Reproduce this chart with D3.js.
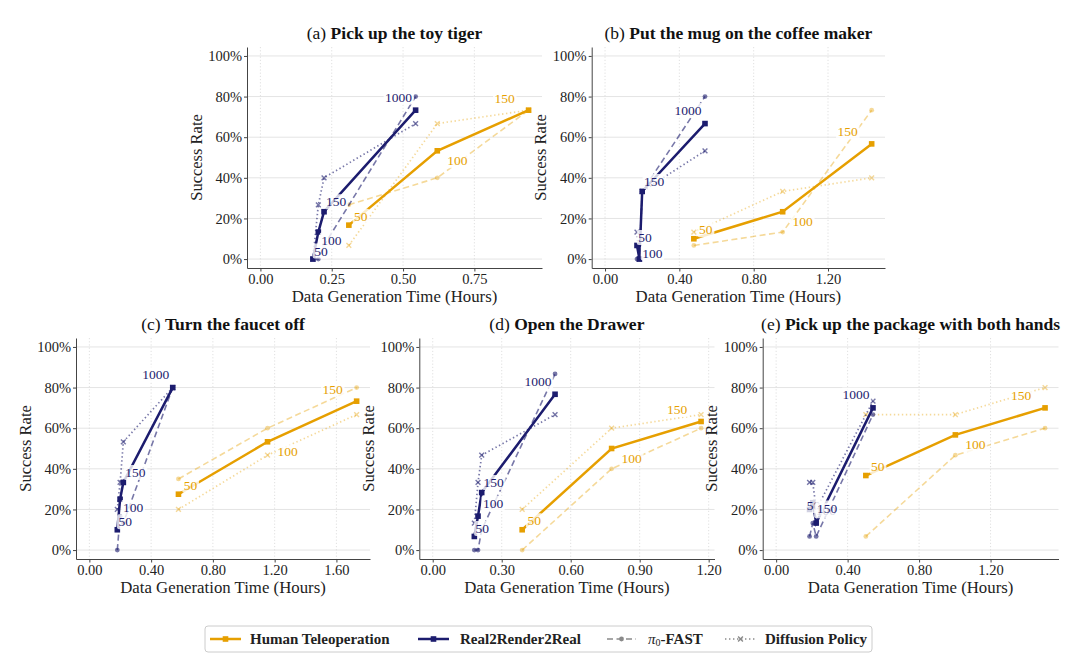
<!DOCTYPE html>
<html><head><meta charset="utf-8">
<script src="https://cdn.jsdelivr.net/npm/d3@7"></script>
<style>
html,body{margin:0;padding:0;background:#fff;}
svg{display:block;font-family:"Liberation Serif","DejaVu Serif",serif;}
</style></head><body>
<svg id="chart" width="1080" height="657"></svg>
<script>
// ---------------- DATA ----------------
const panelLetters = ["a", "b", "c", "d", "e"];
const taskTitles = ["Pick up the toy tiger", "Put the mug on the coffee maker", "Turn the faucet off", "Open the Drawer", "Pick up the package with both hands"];
const humanDemos = ["50", "100", "150"];
const r2rDemos = ["50", "100", "150", "1000"];

// Human Teleoperation: time (hours) and success rate (%)
const humanTime = [[0.31, 0.62, 0.94], [0.478, 0.956, 1.435], [0.577, 1.154, 1.731], [0.389, 0.778, 1.167], [0.502, 1.003, 1.505]];
const humanPi0  = [[26.7, 40, 73.3], [6.7, 13.3, 73.3], [35, 60, 80], [0, 40, 60], [6.7, 46.7, 60]];
const humanDP   = [[6.7, 66.7, 73.3], [13.3, 33.3, 40], [20, 46.7, 66.7], [20, 60, 66.7], [66.7, 66.7, 80]];
const humanMean = [[16.7, 53.3, 73.3], [10, 23.3, 56.7], [27.5, 53.3, 73.3], [10, 50, 63.3], [36.7, 56.7, 70]];

// Real2Render2Real
const r2rTime = [[0.184, 0.203, 0.223, 0.544], [0.172, 0.185, 0.20, 0.538], [0.181, 0.199, 0.22, 0.54], [0.181, 0.197, 0.213, 0.532], [0.187, 0.205, 0.224, 0.542]];
const r2rPi0  = [[0, 0, 6.7, 80], [0, 0, 33.3, 80], [0, 16.7, 13.3, 80], [0, 0, 10, 86.7], [6.7, 13.3, 6.7, 66.7]];
const r2rDP   = [[0, 26.7, 40, 66.7], [13.3, 0, 33.3, 53.3], [20, 33.3, 53.3, 80], [13.3, 33.3, 46.7, 66.7], [33.3, 33.3, 20, 73.3]];
const r2rMean = [[0, 13.3, 23.3, 73.3], [6.7, 0, 33.3, 66.7], [10, 25, 33.3, 80], [6.7, 16.7, 28.3, 76.7], [20, 23.3, 13.3, 70]];

const xTicks = [[0, 0.25, 0.5, 0.75], [0, 0.4, 0.8, 1.2], [0, 0.4, 0.8, 1.2, 1.6], [0, 0.3, 0.6, 0.9, 1.2], [0, 0.4, 0.8, 1.2]];
const yTicks = [0, 20, 40, 60, 80, 100];

// ---------------- LAYOUT / STYLE ----------------
const COL_H = "#E69F00", COL_R = "#1C1C6E", COL_LEG = "#8a8a8a";
const layout = [
  {left: 247, top: 47, w: 295, h: 221},
  {left: 591.7, top: 47, w: 293.3, h: 221},
  {left: 76, top: 338, w: 294, h: 221},
  {left: 419.3, top: 338, w: 295.2, h: 221},
  {left: 762.7, top: 338, w: 295.8, h: 221}
];
const labelOffsetH = [[12, -9], [20, 10], [-24, -12]];
const labelOffsetR = [[8, -8], [13, 8], [12, -10], [-17, -13]];
const labelOverride = {"1-1": [13, -6], "3-1": [15, -13], "4-0": [4, -4], "4-2": [11, -15]};

const svg = d3.select("#chart");

function marker(sel, type, color, op) {
  if (type === "square") {
    sel.append("rect").attr("x", -2.8).attr("y", -2.8).attr("width", 5.6).attr("height", 5.6)
      .attr("fill", color).attr("opacity", op);
  } else if (type === "circle") {
    sel.append("circle").attr("r", 2.4).attr("fill", color).attr("opacity", op);
  } else {
    sel.append("path").attr("d", "M-2.4,-2.4L2.4,2.4M-2.4,2.4L2.4,-2.4")
      .attr("stroke", color).attr("stroke-width", 1.4).attr("opacity", op);
  }
}

function drawSeries(g, x, y, times, vals, color, style, op) {
  const pts = times.map((t, k) => [t, vals[k]]);
  const line = d3.line().x(d => x(d[0])).y(d => y(d[1]));
  const p = g.append("path").attr("d", line(pts)).attr("fill", "none").attr("stroke", color).attr("opacity", op);
  let mk;
  if (style === "solid") { p.attr("stroke-width", 2.5); mk = "square"; }
  else if (style === "dashed") { p.attr("stroke-width", 1.6).attr("stroke-dasharray", "6,3.5"); mk = "circle"; }
  else { p.attr("stroke-width", 1.7).attr("stroke-dasharray", "1.4,2.6").attr("stroke-linecap", "butt"); mk = "x"; }
  pts.forEach(d => {
    const m = g.append("g").attr("transform", `translate(${x(d[0])},${y(d[1])})`);
    marker(m, mk, color, op);
  });
}

function drawPanel(i) {
  const P = layout[i];
  const g = svg.append("g").attr("transform", `translate(${P.left},${P.top})`);
  const xmax = d3.max(humanTime[i].concat(r2rTime[i]));
  const x = d3.scaleLinear().domain([-0.05 * xmax, 1.05 * xmax]).range([0, P.w]);
  const y = d3.scaleLinear().domain([-4.4, 104.4]).range([P.h, 0]);

  // grid
  g.append("g").selectAll("line").data(yTicks).join("line")
    .attr("x1", 0).attr("x2", P.w).attr("y1", d => y(d)).attr("y2", d => y(d))
    .attr("stroke", "#e4e4e4").attr("stroke-width", 1);
  g.append("g").selectAll("line").data(xTicks[i]).join("line")
    .attr("y1", 0).attr("y2", P.h).attr("x1", d => x(d)).attr("x2", d => x(d))
    .attr("stroke", "#d8d8d8").attr("stroke-width", 0.8).attr("stroke-dasharray", "1.2,2");

  // axes
  const xa = g.append("g").attr("transform", `translate(0,${P.h})`)
    .call(d3.axisBottom(x).tickValues(xTicks[i]).tickFormat(d3.format(".2f")).tickSize(3.5).tickSizeOuter(0).tickPadding(2));
  const ya = g.append("g")
    .call(d3.axisLeft(y).tickValues(yTicks).tickFormat(d => d + "%").tickSize(3).tickSizeOuter(0).tickPadding(2));
  [xa, ya].forEach(a => {
    a.select(".domain").attr("stroke", "#444").attr("stroke-width", 1);
    a.selectAll(".tick line").attr("stroke", "#444");
    a.selectAll(".tick text").attr("font-family", "Liberation Serif, DejaVu Serif, serif").attr("font-size", 14.5).attr("fill", "#222");
  });

  // titles / labels
  const t = g.append("text").attr("x", P.w / 2).attr("y", -8).attr("text-anchor", "middle")
    .attr("font-size", 17.5).attr("fill", "#111");
  t.append("tspan").text(`(${panelLetters[i]}) `);
  t.append("tspan").attr("font-weight", "bold").text(taskTitles[i]);
  g.append("text").attr("x", P.w / 2).attr("y", P.h + 33.5).attr("text-anchor", "middle")
    .attr("font-size", 16.8).attr("fill", "#222").text("Data Generation Time (Hours)");
  g.append("text").attr("transform", `translate(${-51},${P.h / 2}) rotate(-90)`).attr("dy", "0.35em")
    .attr("text-anchor", "middle").attr("font-size", 16.5).attr("fill", "#222").text("Success Rate");

  // series
  const sg = g.append("g");
  drawSeries(sg, x, y, humanTime[i], humanPi0[i], COL_H, "dashed", 0.4);
  drawSeries(sg, x, y, humanTime[i], humanDP[i], COL_H, "dotted", 0.4);
  drawSeries(sg, x, y, humanTime[i], humanMean[i], COL_H, "solid", 1);
  drawSeries(sg, x, y, r2rTime[i], r2rPi0[i], COL_R, "dashed", 0.6);
  drawSeries(sg, x, y, r2rTime[i], r2rDP[i], COL_R, "dotted", 0.6);
  drawSeries(sg, x, y, r2rTime[i], r2rMean[i], COL_R, "solid", 1);

  // annotations
  function label(tx, val, txt, off, color) {
    const lg = g.append("g");
    const tt = lg.append("text").attr("x", x(tx) + off[0]).attr("y", y(val) + off[1])
      .attr("text-anchor", "middle").attr("dominant-baseline", "central")
      .attr("font-size", 13.5).attr("fill", color).text(txt);
    const bb = tt.node().getBBox();
    lg.insert("rect", "text").attr("x", bb.x - 1.5).attr("y", bb.y).attr("width", bb.width + 3).attr("height", bb.height)
      .attr("rx", 2).attr("fill", "#fff").attr("opacity", 0.8);
  }
  humanDemos.forEach((d, k) => label(humanTime[i][k], humanMean[i][k], d, labelOffsetH[k], COL_H));
  r2rDemos.forEach((d, k) => label(r2rTime[i][k], r2rMean[i][k], d, labelOverride[`${i}-${k}`] || labelOffsetR[k], COL_R));
}

for (let i = 0; i < 5; i++) drawPanel(i);

// ---------------- LEGEND ----------------
const leg = svg.append("g");
leg.append("rect").attr("x", 205).attr("y", 626).attr("width", 667).attr("height", 26).attr("rx", 3)
  .attr("fill", "#fff").attr("stroke", "#cccccc").attr("stroke-width", 1);
const legItems = [
  {x0: 210, x1: 241, tx: 250, color: COL_H, style: "solid", mk: "square", label: "Human Teleoperation"},
  {x0: 418, x1: 449, tx: 460, color: COL_R, style: "solid", mk: "square", label: "Real2Render2Real"},
  {x0: 607, x1: 636, tx: 648, color: COL_LEG, style: "dashed", mk: "circle", label: "pi0"},
  {x0: 725, x1: 756, tx: 765, color: COL_LEG, style: "dotted", mk: "x", label: "Diffusion Policy"}
];
legItems.forEach(it => {
  const ly = 639;
  const ln = leg.append("line").attr("x1", it.x0).attr("x2", it.x1).attr("y1", ly).attr("y2", ly).attr("stroke", it.color);
  if (it.style === "solid") ln.attr("stroke-width", 2.5);
  else if (it.style === "dashed") ln.attr("stroke-width", 1.5).attr("stroke-dasharray", "6,3.5");
  else ln.attr("stroke-width", 1.6).attr("stroke-dasharray", "1.4,2.6");
  const m = leg.append("g").attr("transform", `translate(${(it.x0 + it.x1) / 2},${ly})`);
  marker(m, it.mk, it.color, 1);
  const t = leg.append("text").attr("x", it.tx).attr("y", ly).attr("dominant-baseline", "central")
    .attr("font-size", 15).attr("font-weight", "bold").attr("fill", "#222");
  if (it.label === "pi0") {
    t.append("tspan").attr("font-style", "italic").attr("font-weight", "normal").text("π");
    t.append("tspan").attr("font-weight", "normal").attr("font-size", 10).attr("dy", 3).text("0");
    t.append("tspan").attr("dy", -3).text("-FAST");
  } else t.text(it.label);
});
</script>
</body></html>
